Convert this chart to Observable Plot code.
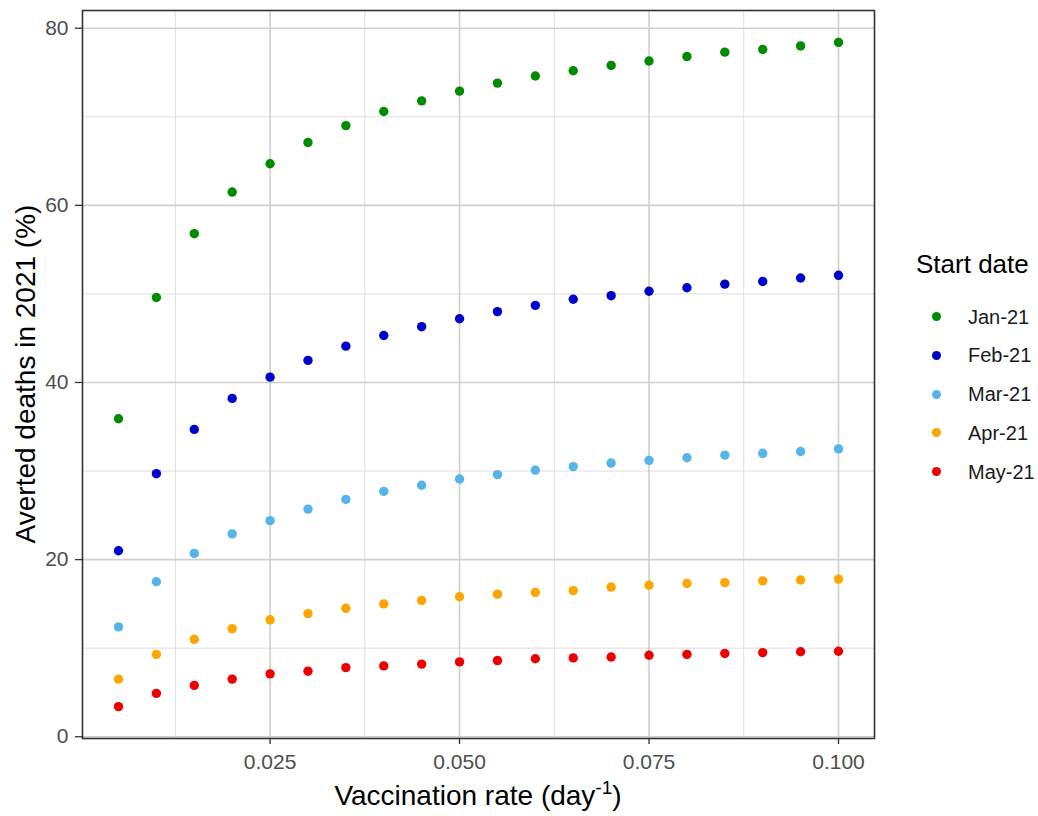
<!DOCTYPE html>
<html><head><meta charset="utf-8">
<script src="https://cdn.jsdelivr.net/npm/d3@7"></script>
<script src="https://cdn.jsdelivr.net/npm/@observablehq/plot@0.6"></script>
<style>
body{margin:0;background:#fff;font-family:"Liberation Sans",Arial,sans-serif;}
#wrap{position:relative;width:1038px;height:816px;}
#legend{position:absolute;left:0;top:0;}
.lg-title{position:absolute;left:916px;top:249px;font-size:26px;line-height:30px;color:#000;white-space:nowrap;}
.lg-row{position:absolute;left:932px;height:30px;line-height:30px;white-space:nowrap;}
.lg-dot{position:absolute;left:0;top:10.5px;width:9px;height:9px;border-radius:50%;}
.lg-lab{position:absolute;left:36px;top:0;font-size:20px;color:#1a1a1a;}
</style>
</head><body><div id="wrap"></div>
<script>
const rates = [0.005,0.010,0.015,0.020,0.025,0.030,0.035,0.040,0.045,0.050,0.055,0.060,0.065,0.070,0.075,0.080,0.085,0.090,0.095,0.100];
const jan = [35.9,49.6,56.8,61.5,64.7,67.1,69.0,70.6,71.8,72.9,73.8,74.6,75.2,75.8,76.3,76.8,77.3,77.6,78.0,78.4];
const feb = [21.0,29.7,34.7,38.2,40.6,42.5,44.1,45.3,46.3,47.2,48.0,48.7,49.4,49.8,50.3,50.7,51.1,51.4,51.8,52.1];
const mar = [12.4,17.5,20.7,22.9,24.4,25.7,26.8,27.7,28.4,29.1,29.6,30.1,30.5,30.9,31.2,31.5,31.8,32.0,32.2,32.5];
const apr = [6.5,9.3,11.0,12.2,13.2,13.9,14.5,15.0,15.4,15.8,16.1,16.3,16.5,16.9,17.1,17.3,17.4,17.6,17.7,17.8];
const may = [3.4,4.9,5.8,6.5,7.1,7.4,7.8,8.0,8.2,8.45,8.6,8.8,8.9,9.0,9.2,9.3,9.4,9.5,9.6,9.65];
const seriesNames = ["Jan-21","Feb-21","Mar-21","Apr-21","May-21"];
const seriesColors = ["#008B00","#0000CD","#56B4E9","#FFA500","#EE0000"];
const xMajorTicks = [0.025,0.050,0.075,0.100];
const xMinorTicks = [0.0125,0.0375,0.0625,0.0875];
const yMajorTicks = [0,20,40,60,80];
const yMinorTicks = [10,30,50,70];
const xTitle = "Vaccination rate (day";
const xTitleSup = "-1";
const yTitle = "Averted deaths in 2021 (%)";
const legendTitle = "Start date";

const seriesValues = [jan,feb,mar,apr,may];
const rows = seriesNames.flatMap((s,i)=>rates.map((r,j)=>({series:s,rate:r,value:seriesValues[i][j]})));

const W=1038,H=816,mL=82,mR=164,mT=10,mB=78;
const chart = Plot.plot({
  width:W, height:H, marginLeft:mL, marginRight:mR, marginTop:mT, marginBottom:mB,
  style:{fontFamily:'"Liberation Sans",Arial,sans-serif', background:"#fff", overflow:"visible"},
  x:{domain:[0.00025,0.10475]},
  y:{domain:[-0.2,82]},
  color:{domain:seriesNames, range:seriesColors},
  marks:[
    Plot.ruleX(xMinorTicks,{x:d=>d,stroke:"#dedede",strokeWidth:1}),
    Plot.ruleY(yMinorTicks,{y:d=>d,stroke:"#dedede",strokeWidth:1}),
    Plot.ruleX(xMajorTicks,{x:d=>d,stroke:"#cfcfcf",strokeWidth:1.6}),
    Plot.ruleY(yMajorTicks,{y:d=>d,stroke:"#cfcfcf",strokeWidth:1.6}),
    Plot.dot(rows,{x:"rate",y:"value",fill:"series",r:4.7,stroke:null}),
    Plot.frame({stroke:"#333",strokeWidth:1.6}),
    Plot.axisX({ticks:xMajorTicks,tickFormat:d3.format(".3f"),tickSize:6,tickPadding:10,fontSize:21,stroke:"#333",fill:"#4d4d4d",strokeWidth:1.3,label:null}),
    Plot.axisY({ticks:yMajorTicks,tickFormat:d3.format("d"),tickSize:7,tickPadding:7,fontSize:21,stroke:"#333",fill:"#4d4d4d",strokeWidth:1.3,label:null})
  ]
});
document.getElementById("wrap").appendChild(chart);

const svg = d3.select(chart);
const cx = mL + (W-mL-mR)/2;
const xt = svg.append("text")
  .attr("x",cx).attr("y",805).attr("text-anchor","middle")
  .attr("font-size",28).attr("fill","#000");
xt.append("tspan").text(xTitle);
xt.append("tspan").attr("dy",-11).attr("font-size",19).text(xTitleSup);
xt.append("tspan").attr("dy",11).text(")");

const cy = mT + (H-mT-mB)/2;
svg.append("text")
  .attr("transform",`translate(35,${cy}) rotate(-90)`)
  .attr("text-anchor","middle").attr("font-size",28).attr("fill","#000")
  .text(yTitle);

// legend
const lg = d3.select("#wrap").append("div").attr("id","legend");
lg.append("div").attr("class","lg-title").text(legendTitle);
const rowCenters0 = 316.5, rowStep = 38.8;
seriesNames.forEach((s,i)=>{
  const r = lg.append("div").attr("class","lg-row").style("top",(rowCenters0+i*rowStep-15)+"px");
  r.append("span").attr("class","lg-dot").style("background",seriesColors[i]);
  r.append("span").attr("class","lg-lab").text(s);
});
</script>
</body></html>
